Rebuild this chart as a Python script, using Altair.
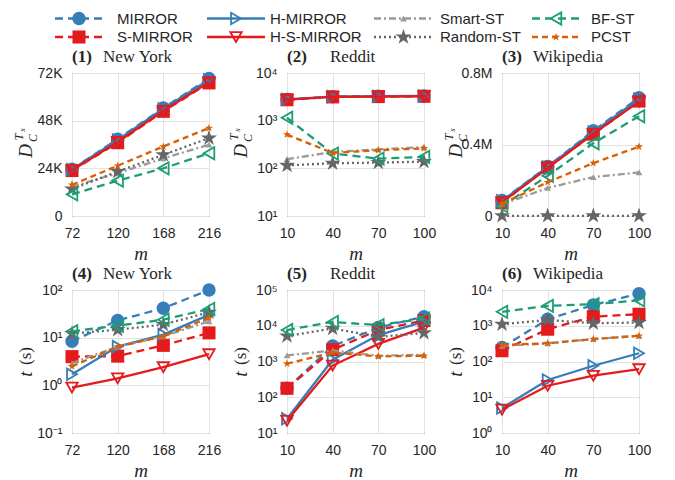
import altair as alt
import pandas as pd

# ---------------- data ----------------
methods = ["MIRROR", "S-MIRROR", "H-MIRROR", "H-S-MIRROR",
           "Smart-ST", "Random-ST", "BF-ST", "PCST"]
x_ny = [72, 120, 168, 216]
x_rw = [10, 40, 70, 100]

ny_D = {
    "MIRROR":     [23600, 38700, 54400, 69200],
    "S-MIRROR":   [22900, 36900, 52700, 67000],
    "H-MIRROR":   [23400, 38300, 54000, 68600],
    "H-S-MIRROR": [23000, 37300, 53000, 67300],
    "Smart-ST":   [14800, 21500, 29000, 35900],
    "Random-ST":  [13600, 22400, 30800, 39200],
    "BF-ST":      [10900, 17800, 24000, 31600],
    "PCST":       [15700, 25300, 35000, 44300],
}
rd_D = {
    "MIRROR":     [2800, 3200, 3250, 3300],
    "S-MIRROR":   [2750, 3150, 3200, 3250],
    "H-MIRROR":   [2800, 3200, 3250, 3300],
    "H-S-MIRROR": [2750, 3150, 3200, 3250],
    "Smart-ST":   [156, 220, 250, 280],
    "Random-ST":  [115, 128, 132, 138],
    "BF-ST":      [1150, 204, 160, 174],
    "PCST":       [510, 210, 240, 262],
}
wk_D = {
    "MIRROR":     [87000, 277000, 477000, 662000],
    "S-MIRROR":   [74000, 272000, 458000, 643000],
    "H-MIRROR":   [85000, 274000, 470000, 655000],
    "H-S-MIRROR": [76000, 268000, 460000, 640000],
    "Smart-ST":   [65000, 157000, 218000, 244000],
    "Random-ST":  [1000, 1000, 1000, 1000],
    "BF-ST":      [55000, 225000, 407000, 558000],
    "PCST":       [68000, 189000, 296000, 388000],
}
ny_t = {
    "MIRROR":     [8.4, 23, 41.5, 100],
    "S-MIRROR":   [4.0, 4.1, 6.9, 12.6],
    "H-MIRROR":   [1.7, 6.5, 11.6, 30],
    "H-S-MIRROR": [0.9, 1.4, 2.4, 4.5],
    "Smart-ST":   [2.9, 6.5, 10.7, 22],
    "Random-ST":  [12.2, 14.7, 18.8, 34],
    "BF-ST":      [13.6, 17.8, 23.8, 40],
    "PCST":       [2.5, 6.5, 10.7, 26],
}
rd_t = {
    "MIRROR":     [178, 2700, 8900, 18000],
    "S-MIRROR":   [178, 2130, 7600, 14000],
    "H-MIRROR":   [25, 1120, 5500, 13000],
    "H-S-MIRROR": [22, 770, 3100, 8900],
    "Smart-ST":   [1480, 2040, 1450, 1540],
    "Random-ST":  [5150, 8400, 4900, 6300],
    "BF-ST":      [7600, 12800, 10400, 15800],
    "PCST":       [870, 1780, 1390, 1450],
}
wk_t = {
    "MIRROR":     [248, 1520, 3800, 7900],
    "S-MIRROR":   [200, 800, 1800, 2100],
    "H-MIRROR":   [5, 30.5, 76, 170],
    "H-S-MIRROR": [4.5, 21, 40, 61],
    "Smart-ST":   [276, 320, 424, 525],
    "Random-ST":  [1100, 1450, 1180, 1230],
    "BF-ST":      [2450, 3600, 4000, 5150],
    "PCST":       [290, 325, 424, 525],
}

# ---------------- styles ----------------
BLUE, RED, GRAY, DGRAY, GREEN, ORANGE = "#377eb8", "#e41a1c", "#9a9a9a", "#666666", "#1b9e77", "#d95f02"
STAR = ("M0,-1L0.225,-0.309L0.951,-0.309L0.363,0.118L0.588,0.809L0,0.382"
        "L-0.588,0.809L-0.363,0.118L-0.951,-0.309L-0.225,-0.309Z")
STYLE = {
    "MIRROR":     dict(color=BLUE, dash=[8, 5], shape="circle", filled=True, size=180),
    "S-MIRROR":   dict(color=RED, dash=[8, 5], shape="square", filled=True, size=170),
    "H-MIRROR":   dict(color=BLUE, dash=None, shape="triangle-right", filled=False, size=130),
    "H-S-MIRROR": dict(color=RED, dash=None, shape="triangle-down", filled=False, size=130),
    "Smart-ST":   dict(color=GRAY, dash=[7, 3, 2, 3], shape="triangle-up", filled=True, size=45),
    "Random-ST":  dict(color=DGRAY, dash=[2, 3], shape=STAR, filled=True, size=280),
    "BF-ST":      dict(color=GREEN, dash=[8, 5], shape="triangle-left", filled=False, size=150),
    "PCST":       dict(color=ORANGE, dash=[6, 4], shape=STAR, filled=True, size=75),
}
SERIF = "Liberation Serif"
SANS = "Liberation Sans"
TXT = "#262626"
W, H = 137, 143
DUMMY = pd.DataFrame({"a": [0]})

LOG_EXPR = ("datum.value < 0.5 ? '10⁻¹' : datum.value < 5 ? '10⁰' : datum.value < 50 ? '10¹' : "
            "datum.value < 500 ? '10²' : datum.value < 5000 ? '10³' : datum.value < 50000 ? '10⁴' : '10⁵'")


def text_at(t, x, y, size, style="normal", weight="normal", angle=0, align="center",
            baseline="middle"):
    kw = dict(text=t, font=SERIF, fontSize=size, fontStyle=style, fontWeight=weight,
              align=align, baseline=baseline, color=TXT)
    if angle:
        kw["angle"] = angle
    return alt.Chart(DUMMY).mark_text(**kw).encode(x=alt.value(x), y=alt.value(y))


def panel(xs, series, ydom, ylog, yvals, yexpr, num, name, name_dx, kind):
    rows = []
    for m in methods:
        for xv, yv in zip(xs, series[m]):
            rows.append({"method": m, "x": xv, "y": yv})
    df = pd.DataFrame(rows)
    xenc = alt.X("x:Q", scale=alt.Scale(domain=[xs[0], xs[-1]], nice=False, zero=False),
                 axis=alt.Axis(values=xs, title="m"))
    yenc = alt.Y("y:Q",
                 scale=alt.Scale(type="log" if ylog else "linear", domain=ydom, nice=False,
                                 zero=False),
                 axis=alt.Axis(values=yvals, labelExpr=yexpr, title=None))
    layers = []
    for m in methods:
        st = STYLE[m]
        base = alt.Chart(df).transform_filter(alt.datum.method == m)
        lk = dict(color=st["color"], strokeWidth=2.3)
        if st["dash"]:
            lk["strokeDash"] = st["dash"]
        layers.append(base.mark_line(**lk).encode(x=xenc, y=yenc))
        pk = dict(shape=st["shape"], size=st["size"], filled=st["filled"], color=st["color"],
                  opacity=1, strokeWidth=1.8)
        layers.append(base.mark_point(**pk).encode(x=xenc, y=yenc))
    # panel title
    layers.append(text_at(f"({num})", 0, -11, 17, weight="bold", align="left",
                          baseline="alphabetic"))
    layers.append(text_at(name, name_dx, -11, 17, align="left", baseline="alphabetic"))
    # y title
    if kind == "D":
        layers.append(text_at("D", -46, 78, 19, style="italic", angle=270))
        layers.append(text_at("C", -39, 65, 12, style="italic", angle=270))
        layers.append(text_at("T", -53, 64, 12, style="italic", angle=270))
        layers.append(text_at("s", -50, 57, 9, style="italic", angle=270))
    else:
        layers.append(text_at("t", -46, 84, 19, style="italic", angle=270))
        layers.append(text_at("(s)", -46, 66, 17, angle=270))
    return alt.layer(*layers).properties(width=W, height=H)


p1 = panel(x_ny, ny_D, [0, 72000], False, [0, 24000, 48000, 72000],
           "datum.value == 0 ? '0' : (datum.value / 1000) + 'K'", 1, "New York", 31, "D")
p2 = panel(x_rw, rd_D, [10, 10000], True, [10, 100, 1000, 10000], LOG_EXPR, 2, "Reddit", 43, "D")
p3 = panel(x_rw, wk_D, [0, 800000], False, [0, 400000, 800000],
           "datum.value == 0 ? '0' : (datum.value / 1000000) + 'M'", 3, "Wikipedia", 31, "D")
p4 = panel(x_ny, ny_t, [0.1, 100], True, [0.1, 1, 10, 100], LOG_EXPR, 4, "New York", 31, "t")
p5 = panel(x_rw, rd_t, [10, 100000], True, [10, 100, 1000, 10000, 100000], LOG_EXPR, 5,
           "Reddit", 43, "t")
p6 = panel(x_rw, wk_t, [1, 10000], True, [1, 10, 100, 1000, 10000], LOG_EXPR, 6,
           "Wikipedia", 31, "t")

# ---------------- legend ----------------
LEG_W, LEG_H = 3 * W + 2 * 78, 40
leg_cols = [0, 0, 1, 1, 2, 2, 3, 3]
leg_rows = [0, 1, 0, 1, 0, 1, 0, 1]
col_x1 = [-17, 135, 302, 460]
col_x2 = [31, 193, 361, 508]
col_tx = [45, 198, 368, 519]
row_y = [7.5, 26]

leg_df = pd.DataFrame({
    "method": methods,
    "x1": [col_x1[c] for c in leg_cols],
    "x2": [col_x2[c] for c in leg_cols],
    "xm": [(col_x1[c] + col_x2[c]) / 2 for c in leg_cols],
    "xt": [col_tx[c] for c in leg_cols],
    "y": [row_y[r] for r in leg_rows],
})
lx = alt.Scale(domain=[0, LEG_W], range=[0, LEG_W], nice=False, zero=False)
ly = alt.Scale(domain=[0, LEG_H], range=[0, LEG_H], nice=False, zero=False)
leg_layers = []
for m in methods:
    st = STYLE[m]
    b = alt.Chart(leg_df).transform_filter(alt.datum.method == m)
    rk = dict(color=st["color"], strokeWidth=2.3)
    if st["dash"]:
        rk["strokeDash"] = st["dash"]
    leg_layers.append(b.mark_rule(**rk).encode(
        x=alt.X("x1:Q", scale=lx, axis=None), x2="x2:Q",
        y=alt.Y("y:Q", scale=ly, axis=None)))
    leg_layers.append(b.mark_point(shape=st["shape"], size=st["size"], filled=st["filled"],
                                   color=st["color"], opacity=1, strokeWidth=1.8).encode(
        x=alt.X("xm:Q", scale=lx, axis=None), y=alt.Y("y:Q", scale=ly, axis=None)))
leg_layers.append(alt.Chart(leg_df).mark_text(font=SANS, fontSize=15, align="left",
                                              baseline="middle", color=TXT).encode(
    x=alt.X("xt:Q", scale=lx, axis=None), y=alt.Y("y:Q", scale=ly, axis=None),
    text="method:N"))
legend = alt.layer(*leg_layers).properties(width=LEG_W, height=LEG_H,
                                           view=alt.ViewBackground(strokeOpacity=0))

grid = alt.concat(p1, p2, p3, p4, p5, p6, columns=3, spacing={"row": 74, "column": 78},
                  bounds="flush")
chart = alt.vconcat(legend, grid, spacing=22, bounds="flush").properties(
    padding={"left": 4, "top": 0, "right": 0, "bottom": 0}
).configure_view(stroke="#333333", strokeWidth=1).configure_axis(
    labelFont=SANS, labelFontSize=14, labelColor=TXT, grid=True, gridColor="#e2e2e2",
    gridWidth=1, domain=False, ticks=False, labelPadding=10, labelFlush=False,
    titleFont=SERIF, titleFontStyle="italic", titleFontSize=19, titleFontWeight="normal",
    titleColor=TXT, titlePadding=4
)

chart.save("out.html", embed_options={"renderer": "svg", "actions": False})
